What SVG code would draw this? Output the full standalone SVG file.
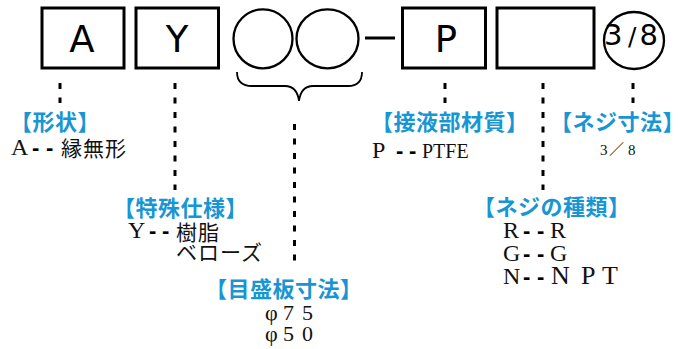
<svg xmlns="http://www.w3.org/2000/svg" width="680" height="349" viewBox="0 0 680 349">
<style>
.box{fill:none;stroke:#000;stroke-width:3}
.ring{fill:none;stroke:#000;stroke-width:2.3}
.big{font-family:"DejaVu Sans","Liberation Sans",sans-serif;font-size:37px;fill:#000}
.lbl{font-family:"Noto Sans CJK JP",sans-serif;font-size:22px;font-weight:bold;fill:#1796d3;letter-spacing:0.5px;font-feature-settings:"halt" 1}
.txt{font-family:"Liberation Serif","Noto Sans CJK JP",serif;font-size:24px;fill:#111}
.jp{font-family:"Noto Sans CJK JP",sans-serif;font-size:21px;fill:#111;letter-spacing:1px}
.dash{font-family:"Liberation Sans",sans-serif;font-weight:bold;font-size:22px;fill:#000}
.dot{stroke:#000;stroke-width:3;stroke-dasharray:6 8.5;fill:none}
</style>
<rect width="680" height="349" fill="#fff"/>
<g id="node-A"><rect class="box" x="42" y="8" width="82" height="60"/><text class="big" x="82" y="52" text-anchor="middle">A</text></g>
<g id="node-Y"><rect class="box" x="136" y="8" width="82.5" height="60"/><text class="big" x="177" y="52" text-anchor="middle">Y</text></g>
<g id="node-circle1"><ellipse class="ring" cx="263" cy="38.8" rx="29.5" ry="29.5"/></g>
<g id="node-circle2"><ellipse class="ring" cx="327.5" cy="38.8" rx="31" ry="29.5"/></g>
<g id="node-P"><rect class="box" x="402.5" y="8" width="83" height="60"/><text class="big" x="446" y="52" text-anchor="middle">P</text></g>
<g id="node-empty"><rect class="box" x="497" y="8" width="97" height="60"/></g>
<g id="node-38"><ellipse class="ring" cx="634" cy="40.5" rx="30" ry="28.5"/><text class="big" style="font-size:29px" y="45"><tspan x="604">3</tspan><tspan x="628" style="font-size:25px">/</tspan><tspan x="639.5">8</tspan></text></g>
<g id="connectors">
<line x1="365" y1="38" x2="395" y2="38" stroke="#000" stroke-width="3"/>
<path d="M237,72 Q237,86 252,86 L285,86 Q297,86 299,101 Q301,86 313,86 L348,86 Q362,86 362,72" fill="none" stroke="#000" stroke-width="1.8"/>
<line class="dot" x1="60" y1="83" x2="60" y2="103"/>
<line class="dot" x1="175" y1="83" x2="175" y2="190"/>
<line class="dot" x1="294.5" y1="124" x2="294.5" y2="266"/>
<line class="dot" x1="445" y1="83" x2="445" y2="103"/>
<line class="dot" x1="543" y1="83" x2="543" y2="190"/>
<line class="dot" x1="633" y1="83" x2="633" y2="103"/>
</g>
<g id="label-shape">
<text class="lbl" x="21" y="130">【形状】</text>
<text class="txt" x="11" y="155">A</text>
<text class="dash" x="32 46" y="155">--</text>
<text class="jp" x="61" y="156">縁無形</text>
</g>
<g id="label-special">
<text class="lbl" x="124" y="216">【特殊仕様】</text>
<text class="txt" x="128" y="238">Y</text>
<text class="dash" x="149 162" y="238">--</text>
<text class="jp" x="176" y="240">樹脂</text>
<text class="jp" x="176" y="260">ベローズ</text>
</g>
<g id="label-dial">
<text class="lbl" x="216" y="297">【目盛板寸法】</text>
<text class="txt" style="font-size:22px" x="265 283 302" y="320">φ75</text>
<text class="txt" style="font-size:22px" x="265 283 302" y="341">φ50</text>
</g>
<g id="label-material">
<text class="lbl" x="382" y="130">【接液部材質】</text>
<text class="txt" x="372" y="158">P</text>
<text class="dash" x="396 409" y="158">--</text>
<text class="txt" style="font-size:20px" x="422" y="158">PTFE</text>
</g>
<g id="label-threadsize">
<text class="lbl" x="561" y="130">【ネジ寸法】</text>
<text class="txt" style="font-size:15px" x="600 609 628" y="155">3／8</text>
</g>
<g id="label-threadtype">
<text class="lbl" x="484" y="215">【ネジの種類】</text>
<text class="txt" x="503" y="238">R</text>
<text class="dash" x="523 537" y="238">--</text>
<text class="txt" x="550" y="238">R</text>
<text class="txt" x="503" y="261">G</text>
<text class="dash" x="523 537" y="261">--</text>
<text class="txt" x="550" y="261">G</text>
<text class="txt" x="503" y="284">N</text>
<text class="dash" x="523 537" y="284">--</text>
<text class="txt" style="font-size:26px" x="551 581 602" y="284">NPT</text>
</g>
</svg>
